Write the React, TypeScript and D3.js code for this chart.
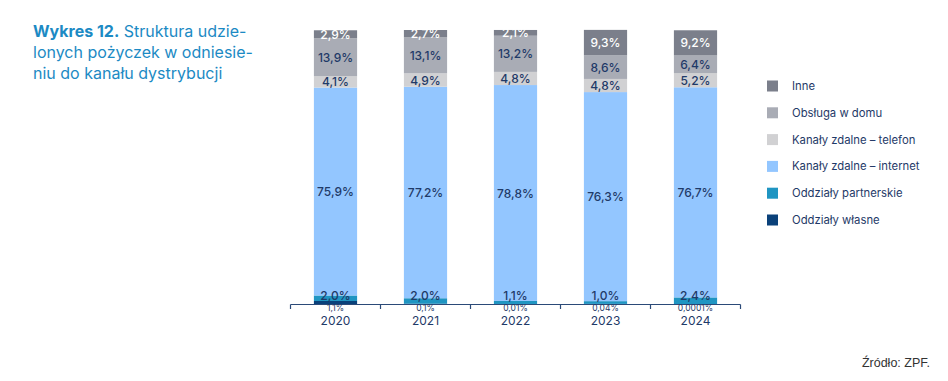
import React from "react";
import * as d3 from "d3";

const years = ["2020", "2021", "2022", "2023", "2024"];
const seriesNames = [
  "Oddziały własne",
  "Oddziały partnerskie",
  "Kanały zdalne – internet",
  "Kanały zdalne – telefon",
  "Obsługa w domu",
  "Inne",
];
const wlasne = [1.1, 0.1, 0.01, 0.04, 0.0001];
const partnerskie = [2.0, 2.0, 1.1, 1.0, 2.4];
const internet = [75.9, 77.2, 78.8, 76.3, 76.7];
const telefon = [4.1, 4.9, 4.8, 4.8, 5.2];
const dom = [13.9, 13.1, 13.2, 8.6, 6.4];
const inne = [2.9, 2.7, 2.1, 9.3, 9.2];
const wlasneLabels = ["1,1%", "0,1%", "0,01%", "0,04%", "0,0001%"];

const colors = ["#0a417a", "#1f95c2", "#93c6ff", "#d1d1d3", "#a9acb5", "#7b7f8b"];
const labelColors = ["#1f3a68", "#1f3a68", "#1f3a68", "#1f3a68", "#1f3a68", "#ffffff"];

const fmt = (v: number) => v.toFixed(1).replace(".", ",") + "%";

export default function App() {
  const W = 948, H = 381;
  const font = "Inter, 'Liberation Sans', sans-serif";
  const x = d3.scaleBand<string>().domain(years).range([290.5, 740.5]).paddingInner(0.52).paddingOuter(0.26);
  const y = d3.scaleLinear().domain([0, 100]).range([304, 30]);
  const seriesData = [wlasne, partnerskie, internet, telefon, dom, inne];
  const rows = years.map((yr, i) => {
    const o: any = { year: yr };
    seriesNames.forEach((s, k) => (o[s] = seriesData[k][i]));
    return o;
  });
  const stack = d3.stack<any>().keys(seriesNames)(rows);
  const ticks = d3.range(years.length + 1).map((i) => 290.5 + i * 90);

  return (
    <svg width={W} height={H} style={{ position: "absolute", left: 0, top: 0, background: "#fff" }}>
      <g fontFamily={font} fontSize={16} fill="#1c8ac4">
        <text x={33} y={37}>
          <tspan fontWeight={700}>Wykres 12.</tspan>
          <tspan> Struktura udzie-</tspan>
        </text>
        <text x={33} y={58}>lonych pożyczek w odniesie-</text>
        <text x={33} y={79}>niu do kanału dystrybucji</text>
      </g>

      {stack.map((layer, k) => (
        <g key={layer.key}>
          {layer.map((d, i) => (
            <rect
              key={i}
              x={x(years[i])}
              width={x.bandwidth()}
              y={y(d[1])}
              height={Math.max(0, y(d[0]) - y(d[1]))}
              fill={colors[k]}
            />
          ))}
        </g>
      ))}

      {stack.map((layer, k) =>
        k === 0
          ? null
          : layer.map((d, i) => {
              const c = (y(d[0]) + y(d[1])) / 2;
              const ly = k === 1 ? Math.min(c, y(0) - 8.5) : c;
              return (
                <text
                  key={layer.key + i}
                  x={(x(years[i]) as number) + x.bandwidth() / 2}
                  y={ly}
                  textAnchor="middle"
                  dominantBaseline="central"
                  fontFamily={font}
                  fontSize={12}
                  fontWeight={500}
                  fill={labelColors[k]}
                >
                  {fmt(seriesData[k][i])}
                </text>
              );
            })
      )}

      <line x1={290.5} x2={740.5} y1={304.5} y2={304.5} stroke="#2b4a78" strokeWidth={1.2} />
      {ticks.map((t, i) => (
        <line key={i} x1={t} x2={t} y1={304.5} y2={309} stroke="#2b4a78" strokeWidth={1.2} />
      ))}
      {years.map((yr, i) => (
        <g key={yr}>
          <text
            x={(x(yr) as number) + x.bandwidth() / 2}
            y={307.5}
            textAnchor="middle"
            dominantBaseline="central"
            fontFamily={font}
            fontSize={8.5}
            fill="#1f3a68"
          >
            {wlasneLabels[i]}
          </text>
          <text
            x={(x(yr) as number) + x.bandwidth() / 2}
            y={320}
            textAnchor="middle"
            dominantBaseline="central"
            fontFamily={font}
            fontSize={12}
            fill="#1f3a68"
          >
            {yr}
          </text>
        </g>
      ))}

      {seriesNames
        .slice()
        .reverse()
        .map((s, j) => {
          const k = seriesNames.length - 1 - j;
          const cy = 86 + j * 26.8;
          return (
            <g key={s}>
              <rect x={767} y={cy - 5.5} width={11} height={11} fill={colors[k]} />
              <text x={792} y={cy} dominantBaseline="central" fontFamily={font} fontSize={11.3} fill="#1f3a68">
                {s}
              </text>
            </g>
          );
        })}

      <text x={930} y={363} textAnchor="end" dominantBaseline="central" fontFamily="'Liberation Sans', Arial, sans-serif" fontSize={12.5} fill="#333">
        Źródło: ZPF.
      </text>
    </svg>
  );
}
